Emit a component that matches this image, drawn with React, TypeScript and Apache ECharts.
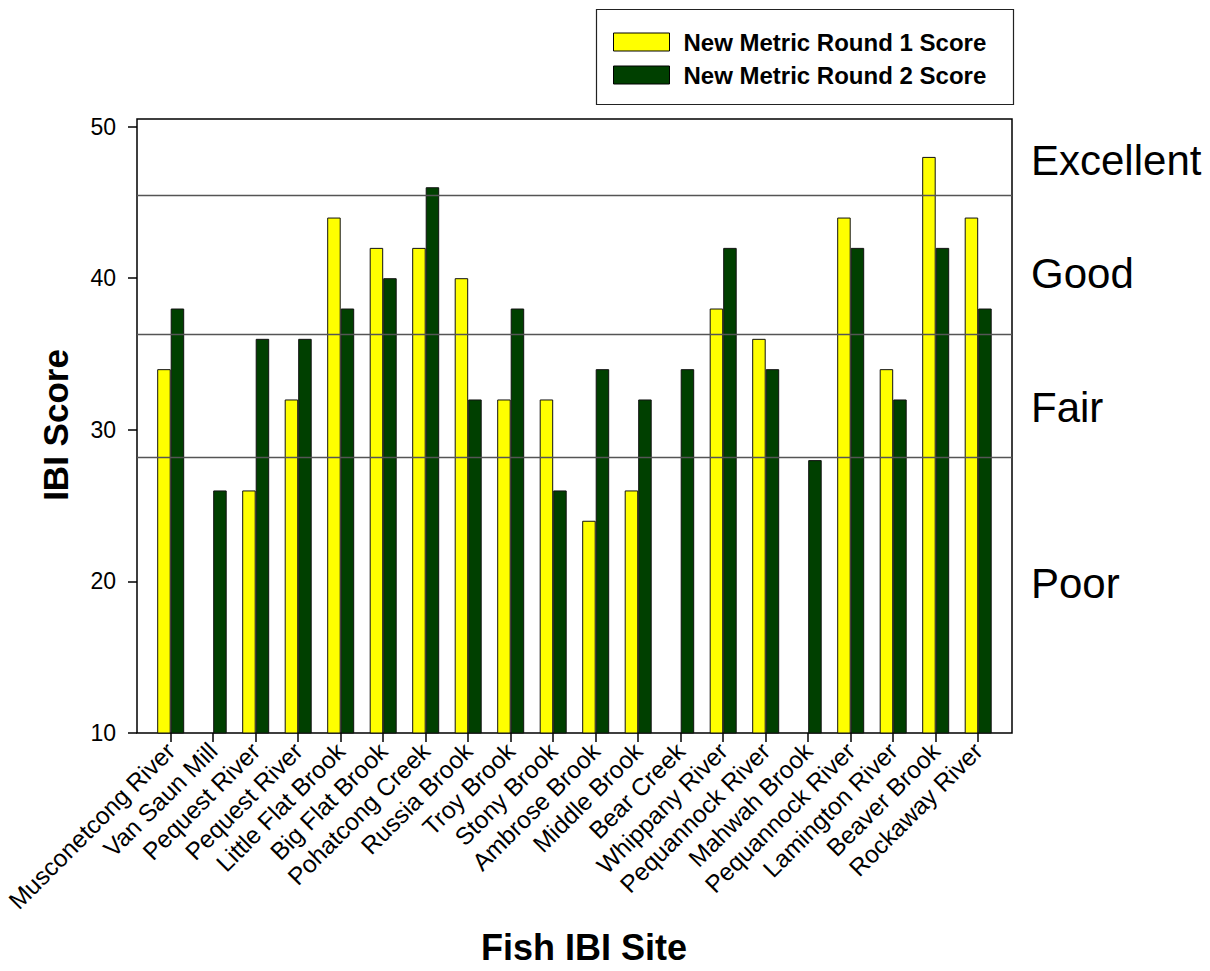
import React, { useEffect, useRef } from "react";
import * as echarts from "echarts";

const sites = [
  "Musconetcong River", "Van Saun Mill", "Pequest River", "Pequest River",
  "Little Flat Brook", "Big Flat Brook", "Pohatcong Creek", "Russia Brook",
  "Troy Brook", "Stony Brook", "Ambrose Brook", "Middle Brook", "Bear Creek",
  "Whippany River", "Pequannock River", "Mahwah Brook", "Pequannock River",
  "Lamington River", "Beaver Brook", "Rockaway River",
];
const round1 = [34, null, 26, 32, 44, 42, 42, 40, 32, 32, 24, 26, null, 38, 36, null, 44, 34, 48, 44];
const round2 = [38, 26, 36, 36, 38, 40, 46, 32, 38, 26, 34, 32, 34, 42, 34, 28, 42, 32, 42, 38];
const seriesNames = ["New Metric Round 1 Score", "New Metric Round 2 Score"];
const thresholds = [45.5, 36.3, 28.2];
const ratingLabels = ["Excellent", "Good", "Fair", "Poor"];
const yTicks = { min: 10, max: 50, interval: 10 };

const FONT = "'Liberation Sans', Arial, Helvetica, sans-serif";

export default function App() {
  const ref = useRef<HTMLDivElement>(null);
  useEffect(() => {
    if (!ref.current) return;
    const chart = echarts.init(ref.current, undefined, { renderer: "svg" });
    const ratingY = [160, 273, 407, 583];
    chart.setOption({
      animation: false,
      backgroundColor: "#fff",
      textStyle: { fontFamily: FONT },
      legend: {
        data: seriesNames,
        orient: "vertical",
        left: 613,
        top: 30,
        padding: 0,
        icon: "rect",
        itemWidth: 56,
        itemHeight: 18,
        itemGap: 9,
        selectedMode: false,
        itemStyle: { borderColor: "#000", borderWidth: 1 },
        textStyle: {
          fontFamily: FONT,
          fontSize: 24,
          fontWeight: "bold",
          color: "#000",
          lineHeight: 18,
          padding: [0, 0, 0, 9],
        },
      },
      grid: [
        {
          left: 137, top: 119, width: 875, height: 614,
          show: true, borderColor: "#000", borderWidth: 1.5,
          backgroundColor: "transparent", containLabel: false,
        },
        { left: 149.45, top: 126.6, width: 850, height: 606.4, containLabel: false },
      ],
      xAxis: [
        { gridIndex: 0, type: "value", min: 0, max: 1, show: false },
        {
          gridIndex: 1,
          type: "category",
          data: sites,
          axisLine: { show: false },
          axisTick: { show: true, alignWithLabel: true, length: 9, lineStyle: { color: "#000", width: 1.5 } },
          axisLabel: {
            interval: 0, rotate: 45, fontSize: 24.5, color: "#000", margin: 14, fontFamily: FONT,
          },
          splitLine: { show: false },
        },
      ],
      yAxis: [
        { gridIndex: 0, type: "value", min: 10, max: 50.5, show: false },
        {
          gridIndex: 1,
          type: "value",
          min: yTicks.min,
          max: yTicks.max,
          interval: yTicks.interval,
          offset: 12.45,
          axisLine: { show: false },
          axisTick: { show: true, length: 9, lineStyle: { color: "#000", width: 1.5 } },
          axisLabel: { fontSize: 23, color: "#000", margin: 21, fontFamily: FONT },
          splitLine: { show: false },
        },
      ],
      series: [
        {
          name: seriesNames[0],
          type: "bar",
          xAxisIndex: 1,
          yAxisIndex: 1,
          data: round1,
          barWidth: 13.5,
          barGap: "0%",
          itemStyle: { color: "#ffff00", borderColor: "#111", borderWidth: 1 },
        },
        {
          name: seriesNames[1],
          type: "bar",
          xAxisIndex: 1,
          yAxisIndex: 1,
          data: round2,
          barWidth: 13.5,
          barGap: "0%",
          itemStyle: { color: "#004000", borderColor: "#111", borderWidth: 1 },
        },
        {
          name: "thresholds",
          type: "line",
          xAxisIndex: 0,
          yAxisIndex: 0,
          data: [],
          z: 5,
          markLine: {
            silent: true,
            symbol: ["none", "none"],
            label: { show: false },
            lineStyle: { color: "#555", width: 1.3, type: "solid" },
            data: thresholds.map((v) => ({ yAxis: v })),
          },
        },
      ],
      graphic: [
        {
          type: "rect",
          shape: { x: 596.5, y: 9.5, width: 417, height: 95 },
          style: { fill: "none", stroke: "#222", lineWidth: 1.2 },
          silent: true,
        },
        {
          type: "text",
          x: 55,
          y: 425,
          rotation: Math.PI / 2,
          style: {
            text: "IBI Score",
            fontFamily: FONT,
            fontSize: 35,
            fontWeight: "bold",
            fill: "#000",
            textAlign: "center",
            textVerticalAlign: "middle",
          },
        },
        {
          type: "text",
          x: 584,
          y: 947,
          style: {
            text: "Fish IBI Site",
            fontFamily: FONT,
            fontSize: 36,
            fontWeight: "bold",
            fill: "#000",
            textAlign: "center",
            textVerticalAlign: "middle",
          },
        },
        ...ratingLabels.map((t, i) => ({
          type: "text",
          x: 1031,
          y: ratingY[i],
          style: {
            text: t,
            fontFamily: FONT,
            fontSize: 42,
            fill: "#000",
            textAlign: "left",
            textVerticalAlign: "middle",
          },
        })),
      ],
    });
    return () => chart.dispose();
  }, []);
  return (
    <div
      ref={ref}
      style={{ position: "absolute", left: 0, top: 0, width: 1210, height: 971 }}
    />
  );
}
